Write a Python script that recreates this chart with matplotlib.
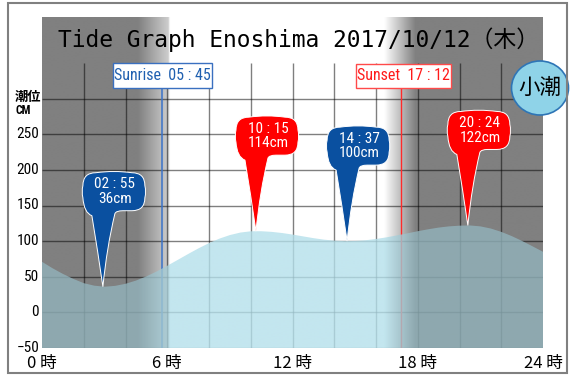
import numpy as np
import matplotlib
matplotlib.use("Agg")
import matplotlib.pyplot as plt
from matplotlib.path import Path
from matplotlib.patches import PathPatch, Rectangle, Ellipse
from matplotlib.transforms import Affine2D, ScaledTranslation, blended_transform_factory
from matplotlib import font_manager

# ---------------- data ----------------
hours = [i * 0.5 for i in range(49)]
tide_cm = [71, 62, 54, 47, 41, 37.5, 36.0,
           37.2, 40.1, 44.6, 50.5, 57.5, 65.4, 73.6, 81.9, 89.9, 97.2, 103.5, 108.5, 112.0, 113.8,
           113.9, 113.0, 111.4, 109.2, 106.7, 104.2, 102.1, 100.7, 100.0,
           100.2, 101.2, 103.0, 105.3, 108.0, 110.9, 113.9, 116.6, 119.0, 120.7, 121.7,
           122.0, 120.7, 117.7, 113.0, 107.1, 100.2, 92.7, 85.0]
peak_labels = ["02 : 55", "10 : 15", "14 : 37", "20 : 24"]
peak_hours = [2 + 55 / 60, 10 + 15 / 60, 14 + 37 / 60, 20 + 24 / 60]
peak_cm = [36, 114, 100, 122]
peak_kind = ["low", "high", "low", "high"]
sunrise_label, sunrise_hour = "Sunrise  05 : 45", 5 + 45 / 60
sunset_label, sunset_hour = "Sunset  17 : 12", 17 + 12 / 60
ytick_vals = [-50, 0, 50, 100, 150, 200, 250]
ytick_labels = ["\u221250", "0", "50", "100", "150", "200", "250"]
xtick_vals = [0, 6, 12, 18, 24]
xtick_labels = ["0 時", "6 時", "12 時", "18 時", "24 時"]
title = "Tide Graph Enoshima 2017/10/12（木）"
tide_type = "小潮"

# ---------------- fonts ----------------
names = {f.name for f in font_manager.fontManager.ttflist}
JP = "Noto Sans CJK JP"
COND = [n for n in ["Roboto Condensed", "PT Sans Narrow", "Archivo Narrow"] if n in names]
NARROW = COND + [JP, "DejaVu Sans"]
plt.rcParams["font.family"] = [JP, "DejaVu Sans"]

W, H = 573, 376
fig = plt.figure(figsize=(W / 100, H / 100), dpi=100)
fig.patch.set_facecolor("white")
PX = Affine2D().scale(1 / W, 1 / H) + fig.transFigure   # reference pixel coords (y up)

def fy(y):  # reference y (top-down) -> y up
    return H - y

ax_l, ax_r, ax_t, ax_b = 42, 543, 17, 348
ax = fig.add_axes([ax_l / W, (H - ax_b) / H, (ax_r - ax_l) / W, (ax_b - ax_t) / H])
px_per_cm = 0.7125
ytop = -50 + (ax_b - ax_t) / px_per_cm
for s in ax.spines.values():
    s.set_visible(False)
ax.set_xticks([])
ax.set_yticks([])

# day / night background gradient
tt = np.linspace(0, 24, 1500)
Lv = np.interp(tt, [0, 4.6, 6.05, 6.12, 16.4, 17.9, 24], [128, 128, 205, 255, 255, 128, 128]) / 255
bg = np.dstack([Lv, Lv, Lv])
ax.imshow(np.repeat(bg, 2, axis=0), extent=[0, 24, -50, ytop], aspect="auto",
          zorder=0, interpolation="bilinear")

# grid
ax.vlines(range(2, 23, 2), -50, 350, colors="k", alpha=0.5, lw=1, zorder=1)
ax.hlines(range(-50, 301, 50), 0, 24, colors="k", alpha=0.5, lw=1, zorder=1)

# sunrise / sunset lines
y_box = -50 + (ax_b - 88) / px_per_cm
ax.vlines([sunrise_hour], -50, y_box, colors="#3b73c9", lw=1.1, zorder=2)
ax.vlines([sunset_hour], -50, y_box, colors="#ff2a2a", lw=1.0, zorder=2)

# water
poly = np.column_stack([[0] + hours + [24], [-50] + tide_cm + [-50]])
clip = PathPatch(Path(poly), transform=ax.transData, fc="none", ec="none")
ax.add_patch(clip)
f = (Lv * 255 - 128) / 127
night = np.array([146.75, 179.25, 188]) / 255
day = np.array([180, 224, 235]) / 255
wcol = night[None, :] + f[:, None] * (day - night)[None, :]
wimg = ax.imshow(np.repeat(wcol[None], 2, axis=0), extent=[0, 24, -50, ytop], aspect="auto",
                 alpha=0.8, zorder=3, interpolation="bilinear")
wimg.set_clip_path(clip)
ax.set_xlim(0, 24)
ax.set_ylim(-50, ytop)

# balloons
Lb, Rb, bb, Tb, r = -20, 42, 76, 114, 13
verts = [(0, 0), (4, 40), (12, bb - 3), (13, bb), (20, bb), (Rb - r, bb),
         (Rb, bb), (Rb, bb + r), (Rb + 1.5, 95), (Rb, Tb - r), (Rb, Tb), (Rb - r, Tb),
         (11, Tb + 2.5), (Lb + r, Tb), (Lb, Tb), (Lb, Tb - r), (Lb - 1.5, 95), (Lb, bb + r),
         (Lb + 1, bb - 2), (-11, bb - 5), (-5, 35), (0, 0), (0, 0)]
codes = [Path.MOVETO, Path.CURVE3, Path.CURVE3, Path.CURVE3, Path.CURVE3, Path.LINETO,
         Path.CURVE3, Path.CURVE3, Path.CURVE3, Path.CURVE3, Path.CURVE3, Path.CURVE3,
         Path.CURVE3, Path.CURVE3, Path.CURVE3, Path.CURVE3, Path.CURVE3, Path.CURVE3,
         Path.CURVE3, Path.CURVE3, Path.CURVE3, Path.CURVE3, Path.CLOSEPOLY]
bpath = Path(verts, codes)
scale = fig.dpi / 100
for lab, th, cm, kind in zip(peak_labels, peak_hours, peak_cm, peak_kind):
    col = "#0a50a0" if kind == "low" else "#ff0000"
    tr = Affine2D().scale(scale) + ScaledTranslation(th, cm, ax.transData)
    p = PathPatch(bpath, fc=col, ec="white", lw=0.7, transform=tr, zorder=5, clip_on=False)
    ax.add_artist(p)
    ax.annotate(f"{lab}\n{cm}cm", xy=(th, cm), xytext=(12, 95), textcoords="offset pixels",
                ha="center", va="center", color="white", fontsize=11, linespacing=1.05,
                family=NARROW, zorder=6)

# title
fig.text(299, fy(40), title, transform=PX, ha="center", va="center", fontsize=16.5,
         family=["DejaVu Sans Mono", JP], color="black", zorder=10)

# sunrise / sunset boxes
for (x0, y0, x1, y1), lab, ec, tc in [((113, 63, 212, 88), sunrise_label, "#3a70c0", "#2060b0"),
                                      ((356, 64, 451, 88), sunset_label, "#ff4a4a", "#ff1a1a")]:
    fig.add_artist(Rectangle((x0, fy(y1)), x1 - x0, y1 - y0, transform=PX, fc="white", ec=ec, lw=1, zorder=8))
    fig.text((x0 + x1) / 2, fy((y0 + y1) / 2), lab, transform=PX, ha="center", va="center",
             fontsize=11.5, family=NARROW, color=tc, zorder=9)

# tick labels
for v, s in zip(ytick_vals, ytick_labels):
    ax.text(39, v, s, transform=blended_transform_factory(PX, ax.transData), ha="right", va="center",
            fontsize=11, family=NARROW, color="black", clip_on=False)
for v, s in zip(xtick_vals, xtick_labels):
    ax.text(v, fy(368), s, transform=blended_transform_factory(ax.transData, PX), ha="center",
            va="baseline", fontsize=12, family=[JP], color="black", clip_on=False)

fig.text(15, fy(97), "潮位", transform=PX, ha="left", va="center", fontsize=9.5, family=[JP], weight="bold")
fig.text(15, fy(111), "CM", transform=PX, ha="left", va="center", fontsize=8.5, family=NARROW, weight="bold")

# tide type circle
fig.add_artist(Ellipse((540, fy(88)), 57, 54, transform=PX, fc="#8fd3e8", ec="#2e75b6", lw=1.2, zorder=11))
fig.text(540, fy(88), tide_type, transform=PX, ha="center", va="center", fontsize=15.5, family=[JP], zorder=12)

# frame
fig.add_artist(Rectangle((8, 3), 559, 370, transform=PX, fc="none", ec="#808080", lw=1.5, zorder=20))

fig.savefig("out.png", dpi=100)
